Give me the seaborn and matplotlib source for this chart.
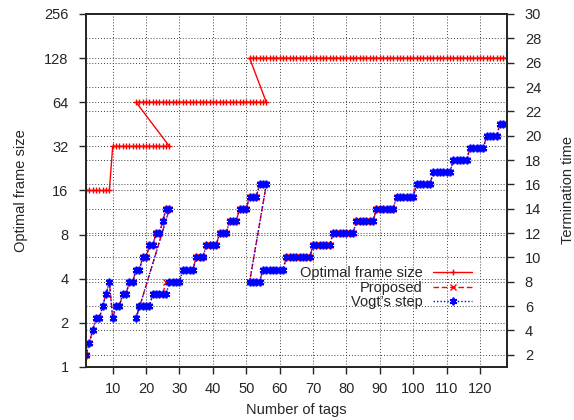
import numpy as np
import pandas as pd
import matplotlib
matplotlib.use("Agg")
import matplotlib.pyplot as plt
import matplotlib.ticker as mticker
import seaborn as sns

# tags covered by each frame size (the curve goes back in x at each change)
tags_16 = list(range(2, 10))
tags_32 = list(range(10, 28))
tags_64 = list(range(17, 57))
tags_128 = list(range(51, 129))

frame_sizes = [16, 32, 64, 128]

# termination time, one list per frame size
term_16 = [2, 3, 4, 5, 5, 6, 7, 8]
term_32 = [5, 6, 6, 7, 7, 8, 8, 9, 9, 10, 10, 11, 11, 12, 12, 13, 14, 14]
term_64_vogt = [5, 6, 6, 6, 6, 7, 7, 7, 7, 7, 8, 8, 8, 8, 9, 9, 9, 9, 10, 10,
                10, 11, 11, 11, 11, 12, 12, 12, 13, 13, 13, 14, 14, 14, 15, 15, 15, 16, 16, 16]
term_64_prop = [5, 6, 6, 6, 6, 7, 7, 7, 7, 8, 8, 8, 8, 8, 9, 9, 9, 9, 10, 10,
                10, 11, 11, 11, 11, 12, 12, 12, 13, 13, 13, 14, 14, 14, 15, 15, 15, 16, 16, 16]
term_128 = [8, 8, 8, 8, 9, 9, 9, 9, 9, 9, 9, 10, 10, 10, 10, 10, 10, 10, 10,
            11, 11, 11, 11, 11, 11, 12, 12, 12, 12, 12, 12, 12, 13, 13, 13, 13, 13, 13,
            14, 14, 14, 14, 14, 14, 15, 15, 15, 15, 15, 15, 16, 16, 16, 16, 16,
            17, 17, 17, 17, 17, 17, 18, 18, 18, 18, 18, 19, 19, 19, 19, 19,
            20, 20, 20, 20, 21, 21, 21]

tags = tags_16 + tags_32 + tags_64 + tags_128
opt_frame = ([frame_sizes[0]] * len(tags_16) + [frame_sizes[1]] * len(tags_32)
             + [frame_sizes[2]] * len(tags_64) + [frame_sizes[3]] * len(tags_128))
proposed = term_16 + term_32 + term_64_prop + term_128
vogt = term_16 + term_32 + term_64_vogt + term_128

df = pd.DataFrame({"tags": tags, "opt": opt_frame, "proposed": proposed, "vogt": vogt})

sns.set_style("white")
plt.rcParams["font.family"] = ["Liberation Sans", "DejaVu Sans"]
plt.rcParams["font.size"] = 10.5

fig, ax = plt.subplots(figsize=(5.74, 4.20), dpi=100)
fig.subplots_adjust(left=0.1498, right=0.8828, top=0.9667, bottom=0.1262)
ax2 = ax.twinx()

grid_kw = dict(color="0.25", linestyle=(0, (1, 2)), linewidth=0.7)

red = "#ff0000"
blue = "#0000ff"
sns.lineplot(data=df, x="tags", y="opt", ax=ax, sort=False, estimator=None,
             color=red, linewidth=1, marker="+", markersize=5,
             markeredgewidth=1, markeredgecolor=red,
             label="Optimal frame size", legend=False)
sns.lineplot(data=df, x="tags", y="proposed", ax=ax2, sort=False, estimator=None,
             color=red, linewidth=1, linestyle=(0, (4, 2)), marker="x",
             markersize=5, markeredgewidth=1, markeredgecolor=red,
             label="Proposed", legend=False)
sns.lineplot(data=df, x="tags", y="vogt", ax=ax2, sort=False, estimator=None,
             color=blue, linewidth=1, linestyle=(0, (1, 1.5)), marker=(6, 2, 0),
             markersize=5.5, markeredgewidth=1.3, markeredgecolor=blue,
             label="Vogt\u2019s step", legend=False)

ax.set_yscale("log", base=2)
ax.set_ylim(1, 256)
ax.yaxis.set_major_locator(mticker.FixedLocator([1, 2, 4, 8, 16, 32, 64, 128, 256]))
ax.yaxis.set_major_formatter(mticker.FuncFormatter(lambda v, p: f"{int(v)}"))
ax.yaxis.set_minor_locator(mticker.NullLocator())
ax.set_xlim(2, 128)
ax.set_xticks(range(10, 130, 10))
ax2.set_ylim(1, 30)
ax2.set_yticks(range(2, 31, 2))

ax.grid(True, which="major", axis="both", **grid_kw)
ax2.grid(True, axis="y", **grid_kw)
ax.set_axisbelow(True)
ax2.set_axisbelow(True)

ax.tick_params(axis="y", direction="out", length=5, width=1, pad=7.5, left=True)
ax.tick_params(axis="x", direction="out", length=5, width=1, pad=6, bottom=True)
ax2.tick_params(axis="y", direction="out", length=5, width=1, pad=8, right=True)
for a in (ax, ax2):
    for s in a.spines.values():
        s.set_visible(True)
        s.set_color("0.15")
        s.set_linewidth(1.3)

ax.set_xlabel("Number of tags", labelpad=5)
ax.set_ylabel("Optimal frame size", labelpad=12)
ax2.set_ylabel("Termination time", labelpad=14)

h1, l1 = ax.get_legend_handles_labels()
h2, l2 = ax2.get_legend_handles_labels()
ax2.legend(h1 + h2, l1 + l2, loc="upper right", bbox_to_anchor=(0.918, 0.285),
           frameon=False, markerfirst=False, handlelength=2.7, handletextpad=0.7,
           labelspacing=0.02, borderpad=0, borderaxespad=0)

fig.savefig("out.png", dpi=100)
